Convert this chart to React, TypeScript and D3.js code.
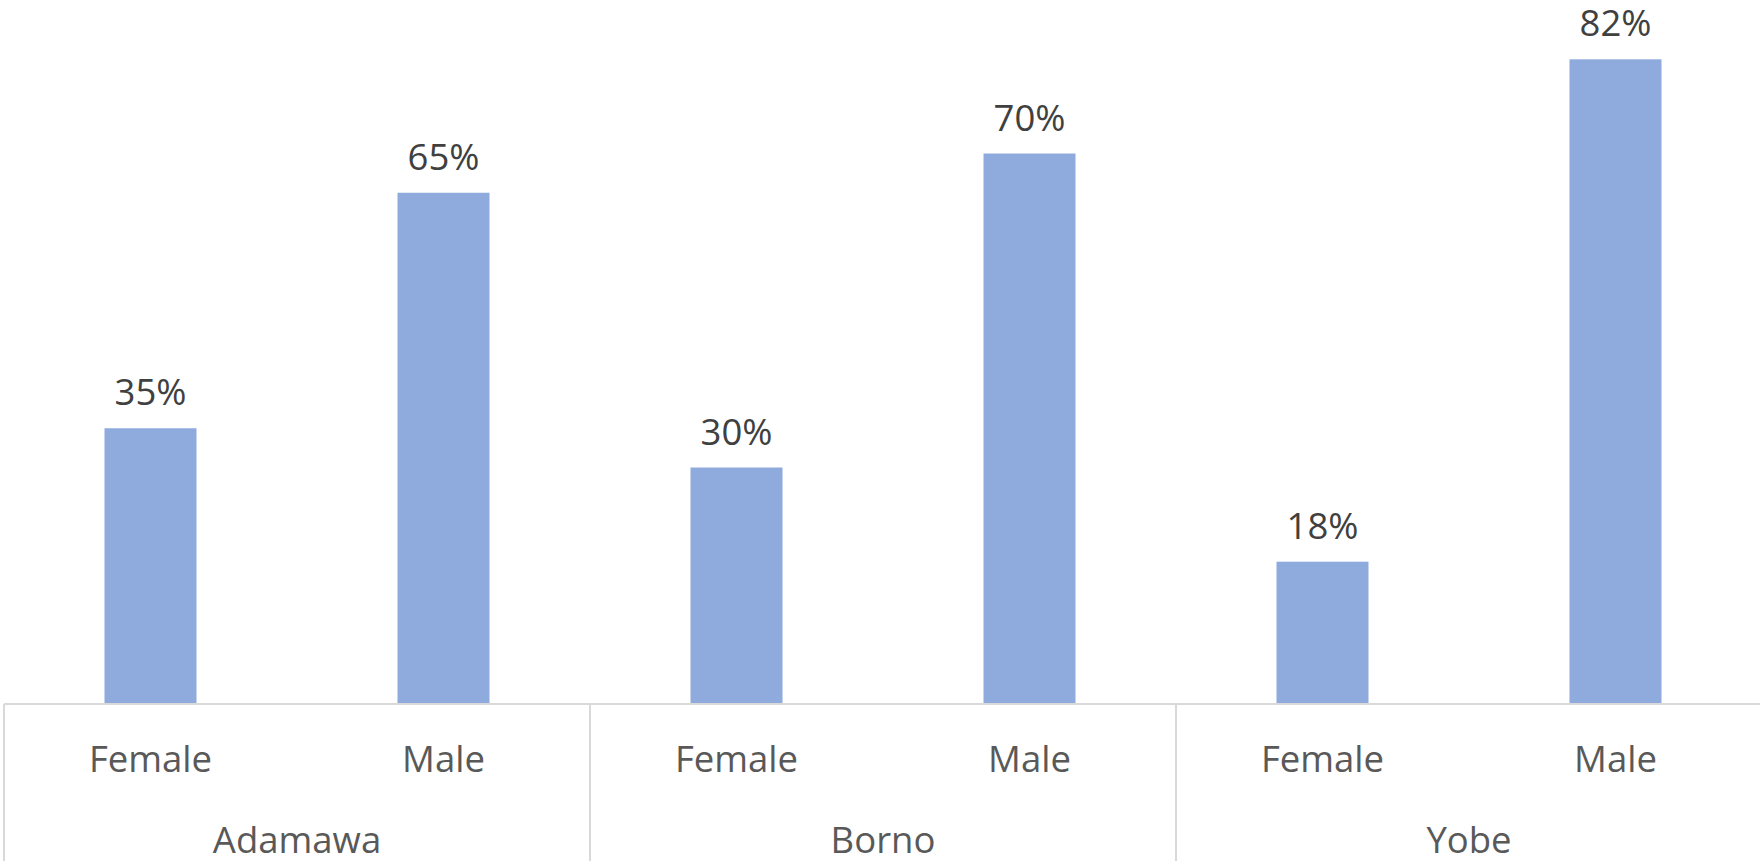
import React from "react";
import * as d3 from "d3";

// Respondent share by sex within each state
const states = ["Adamawa", "Borno", "Yobe"];
const sexes = ["Female", "Male"];
const values = [
  [0.35, 0.65], // Adamawa
  [0.3, 0.7], // Borno
  [0.18, 0.82], // Yobe
];

const W = 1760;
const H = 861;
const left = 4;
const right = 1762;
const baseY = 704;

const BAR = "#8FAADC";
const AXIS = "#D9D9D9";
const FONT = "'Open Sans', sans-serif";

export default function App() {
  const rows = states.flatMap((s, i) =>
    sexes.map((sex, j) => ({ key: `${s}|${sex}`, state: s, sex, value: values[i][j] }))
  );

  const x = d3
    .scaleBand<string>()
    .domain(rows.map((r) => r.key))
    .range([left, right])
    .paddingInner(0.686)
    .paddingOuter(0.343);

  const groupX = d3.scaleBand<string>().domain(states).range([left, right]).padding(0);

  const y = d3.scaleLinear().domain([0, 0.9]).range([baseY - 1, -3.5]);
  const pct = d3.format(".0%");

  return (
    <svg
      width={W}
      height={H}
      style={{ position: "absolute", left: 0, top: 0, background: "#fff" }}
      fontFamily={FONT}
    >
      {rows.map((r) => (
        <g key={r.key}>
          <rect
            x={x(r.key)}
            y={y(r.value)}
            width={x.bandwidth()}
            height={y(0) - y(r.value)}
            fill={BAR}
          />
          <text
            x={(x(r.key) ?? 0) + x.bandwidth() / 2}
            y={y(r.value) - 23}
            textAnchor="middle"
            fontSize={36.5}
            fill="#404040"
          >
            {pct(r.value)}
          </text>
          <text
            x={(x(r.key) ?? 0) + x.bandwidth() / 2}
            y={772}
            textAnchor="middle"
            fontSize={36.5}
            fill="#595959"
          >
            {r.sex}
          </text>
        </g>
      ))}

      {/* category axis: baseline and group separators */}
      <line x1={left} x2={right} y1={baseY} y2={baseY} stroke={AXIS} strokeWidth={2} />
      {states.map((s) => (
        <line
          key={`div-${s}`}
          x1={groupX(s)}
          x2={groupX(s)}
          y1={baseY}
          y2={H}
          stroke={AXIS}
          strokeWidth={2}
        />
      ))}
      <line x1={right} x2={right} y1={baseY} y2={H} stroke={AXIS} strokeWidth={2} />

      {states.map((s) => (
        <text
          key={`lab-${s}`}
          x={(groupX(s) ?? 0) + groupX.bandwidth() / 2}
          y={853}
          textAnchor="middle"
          fontSize={36.5}
          fill="#595959"
        >
          {s}
        </text>
      ))}
    </svg>
  );
}
